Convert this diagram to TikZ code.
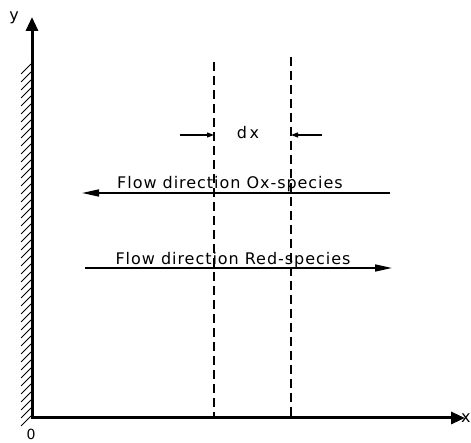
\documentclass[tikz,border=0pt]{standalone}
\usepackage{fontspec}
\setmainfont{DejaVu Sans}[LetterSpace=6]
\usetikzlibrary{arrows.meta}
\begin{document}
\begin{tikzpicture}[x=1pt,y=1pt,
  axis/.style={line width=3pt,-{Triangle[length=14pt,width=12pt]}},
  flow/.style={line width=1.6pt,-{Triangle[length=17pt,width=7pt]}},
  dxarr/.style={line width=1.2pt,-{Triangle[length=7pt,width=5pt]}},
  guide/.style={line width=1.5pt,dash pattern=on 9pt off 5pt},
  lbl/.style={font=\fontsize{16}{18}\selectfont, inner sep=0pt},
  hatch/.style={line width=1pt}]
\useasboundingbox (0,0) rectangle (471,443);
% axes
\coordinate (O) at (32,25);
\coordinate (Ytip) at (32,426);
\coordinate (Xtip) at (465,25);
\draw[axis] (O) -- (Ytip);
\draw[axis] ([xshift=-1.5pt]O) -- (Xtip);
\node[lbl,anchor=base] (ylab) at (14,422) {y};
\node[lbl,anchor=base west] (xlab) at (461,20) {x};
\node[lbl,anchor=base,font=\fontsize{14}{16}\selectfont] (olab) at (31,3) {0};
% hatching of the wall
\foreach \yy in {27,35,...,380} {
  \draw[hatch] (21,\yy-10) -- (31,\yy);
}
% dashed guides
\coordinate (A1) at (214,381);
\coordinate (A2) at (214,25);
\coordinate (B1) at (291,386);
\coordinate (B2) at (291,25);
\draw[guide] (A1) -- (A2);
\draw[guide] (B1) -- (B2);
% dx
\coordinate (dxl) at (180,308);
\coordinate (dxr) at (322,308);
\draw[dxarr] (dxl) -- (214,308);
\draw[dxarr] (dxr) -- (291,308);
\node[lbl] (dx) at (248,310) {d\,x};
% flow arrows
\coordinate (oxs) at (390,250);
\coordinate (oxe) at (82,250);
\draw[flow] (oxs) -- (oxe);
\node[lbl,anchor=base] (oxt) at (230,254) {Flow direction Ox-species};
\coordinate (rds) at (85,175);
\coordinate (rde) at (392,175);
\draw[flow] (rds) -- (rde);
\node[lbl,anchor=base] (rdt) at (233,178) {Flow direction Red-species};
\end{tikzpicture}
\end{document}
